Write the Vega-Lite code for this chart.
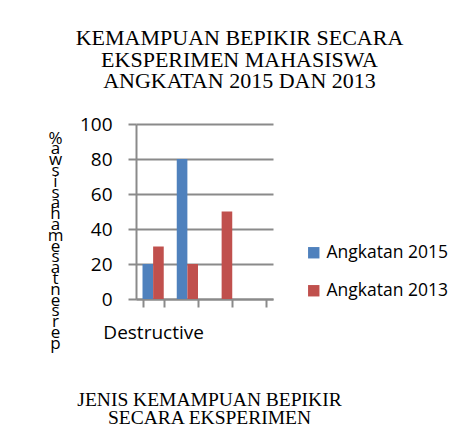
{
  "$schema": "https://vega.github.io/schema/vega-lite/v6.json",
  "autosize": "none",
  "width": 137,
  "height": 175,
  "padding": {"left": 136, "top": 124, "right": 194, "bottom": 131},
  "background": "white",
  "title": {
    "text": ["KEMAMPUAN  BEPIKIR SECARA", "EKSPERIMEN MAHASISWA", "ANGKATAN  2015 DAN 2013"],
    "font": "Liberation Serif",
    "fontSize": 22,
    "fontWeight": "normal",
    "color": "#000000",
    "lineHeight": 21.5,
    "anchor": "middle",
    "dx": 35,
    "baseline": "alphabetic",
    "offset": 5
  },
  "data": {
    "values": [
      {"kategori": "Destructive", "angkatan": "Angkatan 2015", "persen": 20},
      {"kategori": "Destructive", "angkatan": "Angkatan 2013", "persen": 30},
      {"kategori": "Kategori 2", "angkatan": "Angkatan 2015", "persen": 80},
      {"kategori": "Kategori 2", "angkatan": "Angkatan 2013", "persen": 20},
      {"kategori": "Kategori 3", "angkatan": "Angkatan 2015", "persen": 0},
      {"kategori": "Kategori 3", "angkatan": "Angkatan 2013", "persen": 50}
    ]
  },
  "mark": {"type": "bar"},
  "encoding": {
    "x": {
      "field": "kategori",
      "type": "nominal",
      "scale": {"domain": ["Destructive", "Kategori 2", "Kategori 3", "Kategori 4"], "paddingInner": 0.38, "paddingOuter": 0.19},
      "axis": {
        "title": ["JENIS KEMAMPUAN BEPIKIR", "SECARA EKSPERIMEN"],
        "titleFont": "Liberation Serif",
        "titleFontSize": 19.5,
        "titleFontWeight": "normal",
        "titleColor": "#000000",
        "titleLineHeight": 18,
        "titleAnchor": "start",
        "titleAlign": "center",
        "titleBaseline": "alphabetic",
        "titleX": 73,
        "titleY": 106,
        "labelExpr": "datum.value == 'Destructive' ? datum.value : ''",
        "labelAngle": 0,
        "labelFont": "Open Sans",
        "labelFontSize": 19,
        "labelColor": "#000000",
        "labelPadding": 16,
        "labelOverlap": false,
        "tickBand": "extent",
        "tickSize": 8,
        "tickColor": "#8a8a8a",
        "tickWidth": 2,
        "domainColor": "#8a8a8a",
        "domainWidth": 2
      }
    },
    "xOffset": {"field": "angkatan", "type": "nominal", "sort": ["Angkatan 2015", "Angkatan 2013"]},
    "y": {
      "field": "persen",
      "type": "quantitative",
      "scale": {"domain": [0, 100]},
      "axis": {
        "values": [0, 20, 40, 60, 80, 100],
        "title": ["%", "a", "w", "s", "i", "s", "a", "h", "a", "m", " ", "e", "s", "a", "t", "n", "e", "s", "r", "e", "p"],
        "titleFont": "Open Sans",
        "titleFontSize": 17,
        "titleFontWeight": "normal",
        "titleColor": "#000000",
        "titleAngle": 0,
        "titleAlign": "center",
        "titleBaseline": "top",
        "titleLineHeight": 10.8,
        "titleX": -81,
        "titleY": 6,
        "labelFont": "Open Sans",
        "labelFontSize": 19,
        "labelColor": "#000000",
        "labelPadding": 16,
        "tickSize": 8,
        "tickColor": "#8a8a8a",
        "tickWidth": 2,
        "domainColor": "#8a8a8a",
        "domainWidth": 2,
        "grid": true,
        "gridColor": "#8a8a8a",
        "gridWidth": 2
      }
    },
    "color": {
      "field": "angkatan",
      "type": "nominal",
      "scale": {"domain": ["Angkatan 2015", "Angkatan 2013"], "range": ["#4F81BD", "#C0504D"]},
      "legend": {
        "title": null,
        "orient": "none",
        "legendX": 169,
        "legendY": 120,
        "symbolType": "square",
        "symbolSize": 130,
        "symbolStrokeWidth": 0,
        "symbolOpacity": 1,
        "labelFont": "Open Sans",
        "labelFontSize": 17.5,
        "labelColor": "#000000",
        "labelOffset": 4,
        "rowPadding": 19
      }
    }
  },
  "config": {"view": {"stroke": null}}
}
